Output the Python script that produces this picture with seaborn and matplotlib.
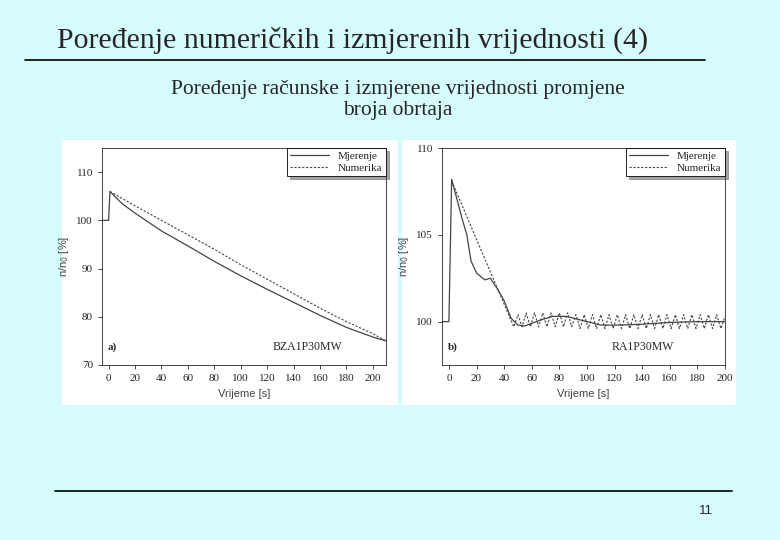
import numpy as np
import pandas as pd
import matplotlib
matplotlib.use("Agg")
import matplotlib.pyplot as plt
import seaborn as sns

# panel a) BZA1P30MW
a_mj_t = [-5, 0, 1, 10, 20, 40, 60, 80, 100, 120, 140, 160, 180, 200, 210]
a_mj_n = [100, 100, 106, 103.5, 101.5, 97.8, 94.7, 91.5, 88.5, 85.7, 83.0, 80.3, 77.8, 75.8, 75.0]
a_nu_t = [1, 20, 40, 60, 80, 100, 120, 140, 160, 180, 200, 210]
a_nu_n = [106, 103, 100, 97, 94, 90.8, 87.8, 84.8, 81.8, 79.0, 76.5, 75.0]

# panel b) RA1P30MW
b_mj_t = [-5, 0, 2, 10, 13, 16, 20, 26, 30, 35, 40, 45, 50, 55, 65, 75, 85, 95,
          110, 125, 140, 160, 180, 200]
b_mj_n = [100, 100, 108.2, 105.8, 105.0, 103.5, 102.8, 102.4, 102.5, 101.9, 101.2,
          100.2, 99.8, 99.75, 100.05, 100.3, 100.3, 100.1, 99.8, 99.8, 99.85, 99.95,
          100.0, 100.0]
b_nu_t = [2, 47, 50, 53, 56, 59, 62, 65, 68, 71, 74, 77, 80, 83, 86, 89, 92, 95, 98,
          101, 104, 107, 110, 113, 116, 119, 122, 125, 128, 131, 134, 137, 140, 143,
          146, 149, 152, 155, 158, 161, 164, 167, 170, 173, 176, 179, 182, 185, 188,
          191, 194, 197, 200]
b_nu_n = [108.1, 99.7, 100.4, 99.7, 100.5, 99.7, 100.5, 99.7, 100.5, 99.7, 100.5,
          99.7, 100.5, 99.7, 100.5, 99.7, 100.4, 99.6, 100.4, 99.6, 100.4, 99.6,
          100.4, 99.6, 100.4, 99.6, 100.4, 99.6, 100.4, 99.6, 100.4, 99.6, 100.4,
          99.6, 100.4, 99.6, 100.4, 99.6, 100.4, 99.6, 100.4, 99.6, 100.4, 99.6,
          100.4, 99.6, 100.4, 99.6, 100.4, 99.6, 100.4, 99.6, 100.3]

sns.set_style("ticks")
plt.rcParams['font.family'] = ['Liberation Serif', 'DejaVu Serif']

bg = '#D6FBFD'
fig = plt.figure(figsize=(7.8, 5.4), dpi=100, facecolor=bg)

def px(x0, y0, w, h):
    return [x0 / 780, 1 - (y0 + h) / 540, w / 780, h / 540]

# white picture boxes
for box in [px(62, 140, 336, 265), px(402, 140, 334, 265)]:
    b = fig.add_axes(box)
    b.set_facecolor('white')
    b.set_xticks([]); b.set_yticks([])
    for s in b.spines.values():
        s.set_visible(False)

def panel(rect, t1, n1, t2, n2, xlim, ylim, yticks, tag, name, xmax_tick):
    ax = fig.add_axes(rect)
    sns.lineplot(x=t1, y=n1, ax=ax, color='#444444', lw=0.9, label='Mjerenje',
                 estimator=None, sort=False)
    sns.lineplot(x=t2, y=n2, ax=ax, color='#444444', lw=0.8, ls=(0, (2, 1.5)),
                 label='Numerika', estimator=None, sort=False)
    ax.set_xlim(*xlim)
    ax.set_ylim(*ylim)
    ax.set_xticks(range(0, xmax_tick + 1, 20))
    ax.set_yticks(yticks)
    ax.tick_params(labelsize=8, length=3, width=0.6, direction='out')
    ax.set_xlabel('Vrijeme [s]', fontsize=8, family='Liberation Sans', color='#444444')
    ax.set_ylabel('n/n$_0$ [%]', fontsize=8, family='Liberation Sans', color='#444444')
    for s in ax.spines.values():
        s.set_linewidth(0.6)
    ax.text(0.02, 0.07, tag, transform=ax.transAxes, fontsize=8, fontweight='bold')
    ax.text(0.6, 0.07, name, transform=ax.transAxes, fontsize=8.5)
    leg = ax.legend(loc='upper right', fontsize=8, frameon=True, fancybox=False,
                    borderaxespad=0.0, handlelength=3.5, edgecolor='black',
                    shadow=True, borderpad=0.3, labelspacing=0.2)
    leg.get_frame().set_linewidth(0.6)
    return ax

panel(px(102, 148, 284, 217), a_mj_t, a_mj_n, a_nu_t, a_nu_n,
      (-5, 210), (70, 115), [70, 80, 90, 100, 110], 'a)', 'BZA1P30MW', 200)
panel(px(442, 148, 283, 217), b_mj_t, b_mj_n, b_nu_t, b_nu_n,
      (-5, 200), (97.5, 110), [100, 105, 110], 'b)', 'RA1P30MW', 200)

# slide text
fig.text(57 / 780, 1 - 40 / 540, 'Poređenje numeričkih i izmjerenih vrijednosti (4)',
         fontsize=21.5, va='center', ha='left')
fig.add_artist(plt.Line2D([25 / 780, 705 / 780], [1 - 60 / 540] * 2, color='black', lw=1.2))
fig.text(398 / 780, 1 - 100 / 540,
         'Poređenje računske i izmjerene vrijednosti promjene\nbroja obrtaja',
         fontsize=15.5, ha='center', va='center', linespacing=1.15)
fig.add_artist(plt.Line2D([55 / 780, 732 / 780], [1 - 491 / 540] * 2, color='black', lw=1.2))
fig.text(706 / 780, 1 - 511 / 540, '11', fontsize=9.5, ha='center', va='center',
         family='Liberation Sans')

fig.savefig('out.png', dpi=100, facecolor=bg)
